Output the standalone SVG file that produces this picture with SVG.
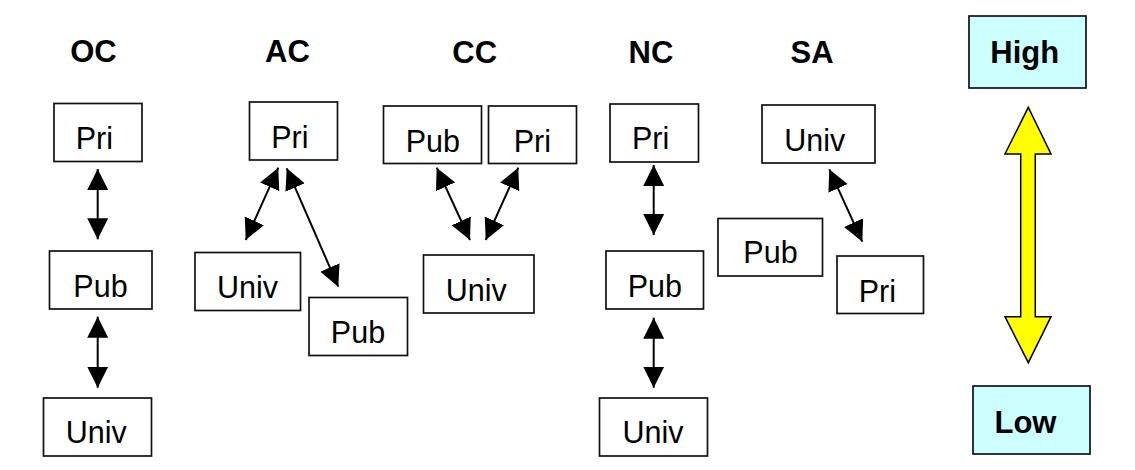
<svg xmlns="http://www.w3.org/2000/svg" width="1135" height="470" viewBox="0 0 1135 470">
  <style>
    .box { fill: #ffffff; stroke: #111111; stroke-width: 1.7; }
    .key { fill: #ccffff; stroke: #111111; stroke-width: 1.7; }
    .lbl { font-family: "Liberation Sans", Arial, sans-serif; font-size: 30.5px; fill: #000000; text-anchor: middle; }
    .ttl { font-family: "Liberation Sans", Arial, sans-serif; font-size: 31px; font-weight: bold; fill: #000000; text-anchor: middle; }
    .link { stroke: #000000; stroke-width: 2; fill: none; marker-start: url(#head); marker-end: url(#head); }
  </style>
  <defs>
    <marker id="head" markerUnits="userSpaceOnUse" markerWidth="22" markerHeight="22" refX="21" refY="10.5" orient="auto-start-reverse" viewBox="0 0 22 21">
      <path d="M0,0 L21,10.5 L0,21 Z" fill="#000000"/>
    </marker>
  </defs>

  <!-- column titles -->
  <g id="titles">
    <text class="ttl" x="93.5" y="62">OC</text>
    <text class="ttl" x="287.5" y="62">AC</text>
    <text class="ttl" x="474.7" y="62.5">CC</text>
    <text class="ttl" x="651" y="62.5">NC</text>
    <text class="ttl" x="812" y="62.5">SA</text>
  </g>

  <!-- OC -->
  <g id="oc-pri"><rect class="box" x="54" y="103.5" width="88" height="58"/><text class="lbl" x="94.3" y="149.3">Pri</text></g>
  <g id="oc-pub"><rect class="box" x="49.5" y="251" width="102.5" height="58"/><text class="lbl" x="100.5" y="296.7">Pub</text></g>
  <g id="oc-univ"><rect class="box" x="43.5" y="398" width="108" height="58"/><text class="lbl" x="96.2" y="443.3">Univ</text></g>

  <!-- AC -->
  <g id="ac-pri"><rect class="box" x="249.5" y="102" width="88" height="58"/><text class="lbl" x="289.8" y="147.7">Pri</text></g>
  <g id="ac-univ"><rect class="box" x="195" y="252.5" width="105.5" height="58"/><text class="lbl" x="247.5" y="298.3">Univ</text></g>
  <g id="ac-pub"><rect class="box" x="309" y="297.5" width="98.5" height="58"/><text class="lbl" x="358" y="343.3">Pub</text></g>

  <!-- CC -->
  <g id="cc-pub"><rect class="box" x="383.5" y="106" width="98" height="57.5"/><text class="lbl" x="432.8" y="151.7">Pub</text></g>
  <g id="cc-pri"><rect class="box" x="488.5" y="106" width="88" height="57.5"/><text class="lbl" x="532.3" y="151.7">Pri</text></g>
  <g id="cc-univ"><rect class="box" x="423.5" y="255" width="110.5" height="58"/><text class="lbl" x="476.2" y="301">Univ</text></g>

  <!-- NC -->
  <g id="nc-pri"><rect class="box" x="610" y="104" width="88.5" height="58"/><text class="lbl" x="650.6" y="149.3">Pri</text></g>
  <g id="nc-pub"><rect class="box" x="606" y="251" width="97.5" height="58"/><text class="lbl" x="654.9" y="296.7">Pub</text></g>
  <g id="nc-univ"><rect class="box" x="599.5" y="398" width="108" height="58"/><text class="lbl" x="652.9" y="443.3">Univ</text></g>

  <!-- SA -->
  <g id="sa-univ"><rect class="box" x="762" y="105" width="113" height="58"/><text class="lbl" x="814.8" y="150.7">Univ</text></g>
  <g id="sa-pub"><rect class="box" x="718" y="218.5" width="104.5" height="57.5"/><text class="lbl" x="770.5" y="263.3">Pub</text></g>
  <g id="sa-pri"><rect class="box" x="837" y="256" width="86.5" height="57.5"/><text class="lbl" x="877.3" y="301.7">Pri</text></g>

  <!-- scale -->
  <g id="high"><rect class="key" x="969" y="16" width="117" height="72"/><text class="ttl" x="1024.8" y="63.3">High</text></g>
  <g id="low"><rect class="key" x="973" y="386" width="117" height="68"/><text class="ttl" x="1025.5" y="432.7">Low</text></g>
  <g id="scale-arrow">
    <path d="M1028.3,107.3 L1051,154 L1035.3,154 L1035.3,316.7 L1051,316.7 L1028.3,362.7 L1005,316.7 L1020.7,316.7 L1020.7,154 L1005,154 Z" fill="#ffff00" stroke="#000000" stroke-width="1.5" stroke-linejoin="miter"/>
  </g>

  <!-- connectors -->
  <g id="connectors">
    <line class="link" x1="97.7" y1="169" x2="97.7" y2="239.3"/>
    <line class="link" x1="97.7" y1="316.7" x2="97.7" y2="387.7"/>
    <line class="link" x1="278.3" y1="167.7" x2="245.7" y2="240"/>
    <line class="link" x1="286.7" y1="168.3" x2="338.3" y2="286.7"/>
    <line class="link" x1="436.7" y1="167.7" x2="470" y2="240"/>
    <line class="link" x1="518.3" y1="167.7" x2="485.7" y2="240"/>
    <line class="link" x1="653.7" y1="165" x2="653.7" y2="235"/>
    <line class="link" x1="653.7" y1="317.7" x2="653.7" y2="387.7"/>
    <line class="link" x1="829.3" y1="169.3" x2="862.3" y2="241.7"/>
  </g>
</svg>
